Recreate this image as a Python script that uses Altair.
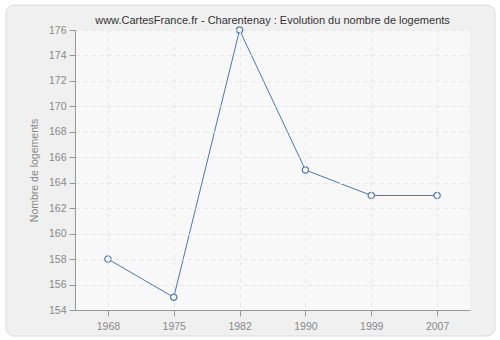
import altair as alt
import pandas as pd

years = ["1968", "1975", "1982", "1990", "1999", "2007"]
logements = [158, 155, 176, 165, 163, 163]
y_ticks = list(range(154, 177, 2))

df = pd.DataFrame({"annee": years, "logements": logements})

FONT = "Liberation Sans"
BLUE = "#4f77aa"

one = pd.DataFrame({"k": [0]})
frame = alt.Chart(one).mark_rect(
    fill="#f0f0f0", stroke="#dddddd", strokeWidth=1, cornerRadius=8
).encode(
    x=alt.value(-69), x2=alt.value(420), y=alt.value(-25), y2=alt.value(306)
)
plotbg = alt.Chart(one).mark_rect(fill="#f8f8f8").encode(
    x=alt.value(0), x2=alt.value(395), y=alt.value(0), y2=alt.value(280)
)

base = alt.Chart(df).encode(
    x=alt.X("annee:O", sort=years,
            scale=alt.Scale(type="point", padding=0.5),
            axis=alt.Axis(title=None, labelAngle=0, grid=True, zindex=1)),
    y=alt.Y("logements:Q",
            scale=alt.Scale(domain=[154, 176], nice=False, zero=False),
            axis=alt.Axis(title="Nombre de logements", values=y_ticks, grid=True, zindex=1)),
)

line = base.mark_line(color=BLUE, strokeWidth=1)
points = base.mark_point(shape="circle", filled=True, fill="white", stroke=BLUE,
                         strokeWidth=1.2, size=40, opacity=1)

chart = alt.layer(frame, plotbg, line, points).properties(
    width=395, height=280,
    title=alt.TitleParams(
        "www.CartesFrance.fr - Charentenay : Evolution du nombre de logements",
        font=FONT, fontSize=11, fontWeight="normal", color="#333333",
        anchor="middle", offset=0, dy=21, frame="group",
    ),
    autosize=alt.AutoSizeParams(type="none"),
    padding={"left": 75, "top": 30, "right": 30, "bottom": 30},
).configure(background="white").configure_view(
    stroke=None
).configure_axis(
    labelFont=FONT, labelFontSize=10.5, labelColor="#888888",
    titleFont=FONT, titleFontSize=10.5, titleColor="#888888", titleFontWeight="normal",
    domainColor="#999999", tickColor="#999999", tickSize=6,
    gridColor="#e6e6e6", gridDash=[4, 4], gridWidth=1,
    labelPadding=3,
).configure_axisY(titlePadding=9).configure_axisX(labelPadding=5)

chart.save("out.html", embed_options={"renderer": "svg", "actions": False})
